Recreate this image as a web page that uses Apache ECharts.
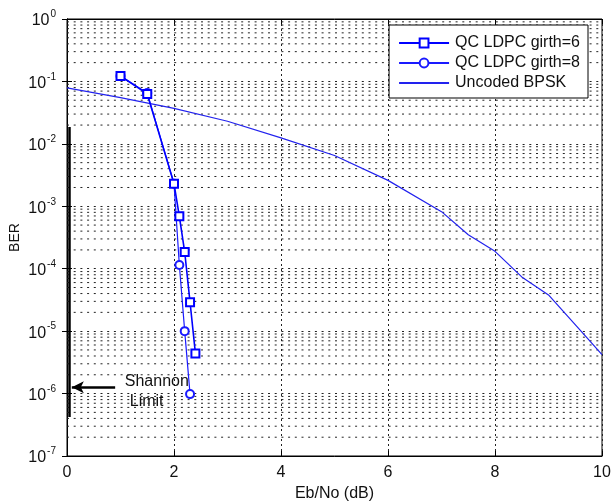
<!DOCTYPE html>
<html style="height: 100%">
  <head>
    <meta charset="utf-8" />
  </head>
  <body style="height: 100%; margin: 0; background: #fff">
    <div id="ber-container" style="width: 612px; height: 502px"></div>
    <script type="text/javascript" src="https://cdn.jsdelivr.net/npm/echarts@6/dist/echarts.min.js"></script>
    <script type="text/javascript">
      // QC LDPC girth=6 (square markers)
      let girth6X = [1, 1.5, 2, 2.1, 2.2, 2.3, 2.4]
      let girth6Y = [0.122, 0.063, 0.0023, 0.00069, 0.000185, 0.000029, 0.0000044]
      // QC LDPC girth=8 (circle markers)
      let girth8X = [1, 1.5, 2, 2.1, 2.2, 2.3]
      let girth8Y = [0.122, 0.065, 0.0023, 0.000115, 0.00001, 0.00000098]
      // uncoded BPSK
      let bpskX = [0, 1, 2, 3, 4, 5, 6, 7, 7.5, 8, 8.5, 9, 9.65, 10]
      let bpskY = [0.079, 0.055, 0.037, 0.023, 0.0125, 0.0065, 0.0026, 0.00082, 0.00035, 0.00019, 0.000074, 0.000038, 0.0000091, 0.0000042]
      // x tick labels
      let xTicks = [0, 2, 4, 6, 8, 10]
      // Shannon limit marker
      let shannonX = 0.05
      let shannonTop = 0.0186
      let shannonBottom = 0.00000042
      let arrowY = 0.00000126

      const font = "Liberation Sans, Arial, Helvetica, sans-serif"
      const dotColor = "#222"

      // minor log grid values 2..9 x 10^k
      let minorGrid = []
      for (let k = -7; k < 0; k++) {
        for (let m = 2; m <= 9; m++) {
          minorGrid.push([0, m * Math.pow(10, k)])
        }
      }

      function pairs(xs, ys) {
        return xs.map((x, i) => [x, ys[i]])
      }

      var dom = document.getElementById("ber-container")
      var myChart = echarts.init(dom)

      var option = {
        animation: false,
        grid: {
          left: 67,
          right: 10,
          top: 19,
          bottom: 46,
          outerBoundsMode: "none",
          containLabel: false,
          show: true,
          borderColor: "#000",
          borderWidth: 1,
        },
        legend: {
          orient: "vertical",
          right: 24,
          top: 25,
          backgroundColor: "#fff",
          borderColor: "#000",
          borderWidth: 1,
          padding: [10, 8, 7, 9],
          itemGap: 4,
          itemWidth: 50,
          itemHeight: 11,
          textStyle: { fontSize: 16, fontFamily: font, color: "#111", padding: [0, 0, 0, 1] },
          data: [
            "QC LDPC girth=6",
            "QC LDPC girth=8",
            { name: "Uncoded BPSK", itemStyle: { opacity: 0 } },
          ],
        },
        xAxis: [
          {
            type: "value",
            min: 0,
            max: 10,
            interval: 2,
            name: "Eb/No (dB)",
            nameLocation: "middle",
            nameGap: 30,
            nameMoveOverlap: false,
            nameTextStyle: { fontSize: 16, fontFamily: font, color: "#111" },
            axisLine: { lineStyle: { color: "#000" } },
            axisTick: { inside: true, length: 5, lineStyle: { color: "#000" } },
            axisLabel: {
              margin: 9,
              fontSize: 16,
              fontFamily: font,
              color: "#111",
              formatter: (v) => (xTicks.indexOf(v) >= 0 ? String(v) : ""),
            },
            splitLine: { show: true, lineStyle: { color: dotColor, type: [2, 3], width: 1 } },
          },
          {
            type: "value",
            position: "top",
            min: 0,
            max: 10,
            interval: 2,
            axisLine: { lineStyle: { color: "#000" } },
            axisTick: { inside: true, length: 5, lineStyle: { color: "#000" } },
            axisLabel: { show: false },
            splitLine: { show: false },
          },
        ],
        yAxis: [
          {
            type: "log",
            logBase: 10,
            min: 1e-7,
            max: 1,
            splitNumber: 7,
            name: "BER",
            nameLocation: "middle",
            nameGap: 45,
            nameMoveOverlap: false,
            nameTextStyle: { fontSize: 14, fontFamily: font, color: "#111" },
            axisLine: { show: true, lineStyle: { color: "#000" } },
            axisTick: { inside: true, length: 5, lineStyle: { color: "#000" } },
            axisLabel: {
              margin: 11,
              fontFamily: font,
              color: "#111",
              formatter: function (v) {
                let e = Math.round(Math.log10(v))
                return "{b|10}{s|" + (e < 0 ? "-" + -e : e) + "}"
              },
              rich: {
                b: { fontSize: 16, fontFamily: font, color: "#111", padding: [4, 0, 0, 0] },
                s: { fontSize: 10, fontFamily: font, color: "#111", padding: [0, 0, 9, 1] },
              },
            },
            splitLine: { show: true, lineStyle: { color: dotColor, type: [2, 4.7], width: 1 } },
          },
          {
            type: "log",
            logBase: 10,
            position: "right",
            min: 1e-7,
            max: 1,
            splitNumber: 7,
            axisLine: { show: true, lineStyle: { color: "#000" } },
            axisTick: { inside: true, length: 5, lineStyle: { color: "#000" } },
            axisLabel: { show: false },
            splitLine: { show: false },
          },
        ],
        series: [
          {
            name: "minorGrid",
            type: "custom",
            z: 1,
            silent: true,
            data: minorGrid,
            renderItem: function (params, api) {
              let a = api.coord([0, api.value(1)])
              let b = api.coord([10, api.value(1)])
              return {
                type: "line",
                shape: { x1: a[0], y1: a[1], x2: b[0], y2: b[1] },
                style: { stroke: dotColor, lineWidth: 1, lineDash: [2, 4.7] },
              }
            },
          },
          {
            name: "Uncoded BPSK",
            type: "line",
            symbol: "none",
            data: pairs(bpskX, bpskY),
            lineStyle: { color: "#2222ee", width: 1.2 },
            itemStyle: { color: "#2222ee" },
            markLine: {
              silent: true,
              symbol: ["none", "none"],
              label: { show: false },
              data: [
                [
                  { coord: [shannonX, shannonTop], lineStyle: { color: "#000", width: 2.5, type: "solid" } },
                  { coord: [shannonX, shannonBottom] },
                ],
                [
                  {
                    coord: [0.9, arrowY],
                    symbol: "none",
                    lineStyle: { color: "#000", width: 2.5, type: "solid" },
                  },
                  { coord: [0.09, arrowY], symbol: "arrow", symbolSize: [9, 12] },
                ],
              ],
            },
          },
          {
            name: "QC LDPC girth=8",
            type: "line",
            symbol: "emptyCircle",
            symbolSize: 8,
            data: pairs(girth8X, girth8Y),
            lineStyle: { color: "#1a1aff", width: 1.2 },
            itemStyle: { color: "#1a1aff", borderWidth: 1.3 },
          },
          {
            name: "QC LDPC girth=6",
            type: "line",
            symbol: "emptyRect",
            symbolSize: 8,
            data: pairs(girth6X, girth6Y),
            lineStyle: { color: "#0000ff", width: 1.6 },
            itemStyle: { color: "#0000ff", borderWidth: 1.5 },
          },
        ],
      }

      if (option && typeof option === "object") {
        myChart.setOption(option)
      }

      // Shannon limit caption
      let p = myChart.convertToPixel({ xAxisIndex: 0, yAxisIndex: 0 }, [1.08, arrowY])
      myChart.setOption({
        graphic: [
          {
            type: "text",
            left: p[0],
            top: p[1] - 14,
            style: { text: "Shannon", fontSize: 16, fontFamily: font, fill: "#111" },
          },
          {
            type: "text",
            left: p[0] + 5,
            top: p[1] + 6,
            style: { text: "Limit", fontSize: 16, fontFamily: font, fill: "#111" },
          },
        ],
      })
    </script>
  </body>
</html>
